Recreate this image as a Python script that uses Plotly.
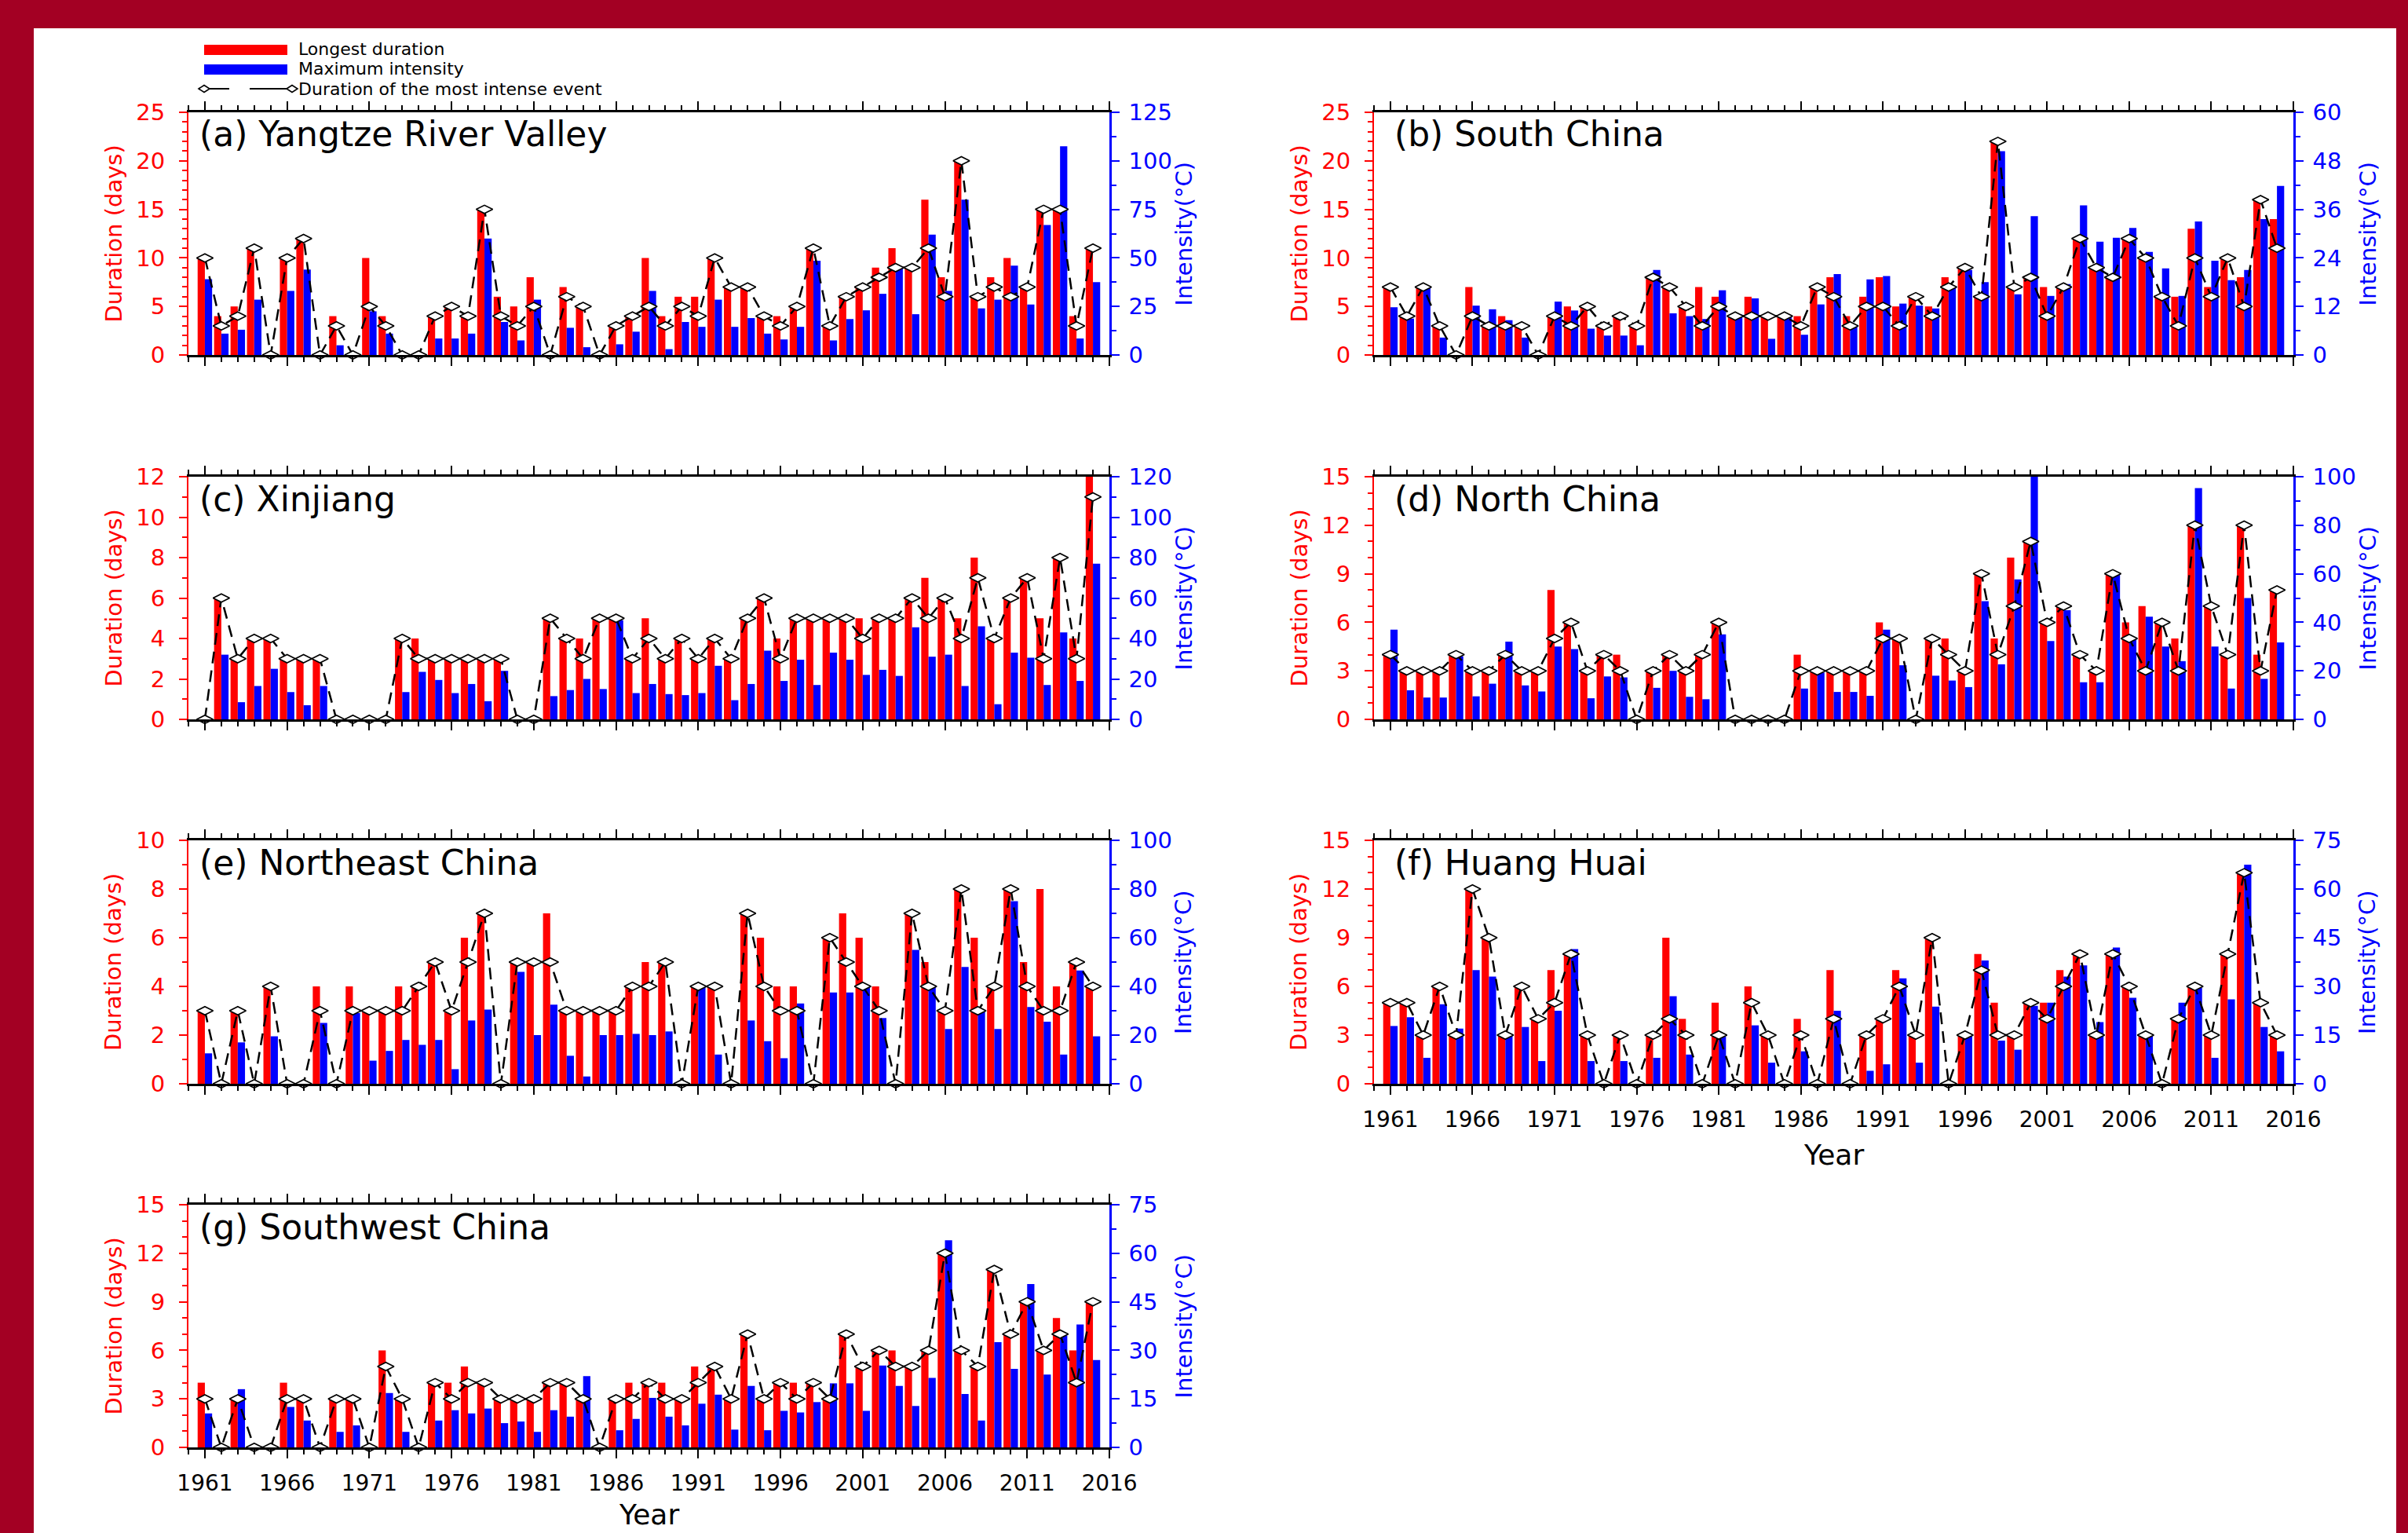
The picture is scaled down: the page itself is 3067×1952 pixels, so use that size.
import plotly.graph_objects as go

W, H = 3067, 1952
FONT = "DejaVu Sans"

years = list(range(1961, 2016))

# ---------------- data ----------------
# (a) Yangtze River Valley
a_dur = [10,4,5,11,0,10,12,0,4,0, 10,4,0,0,4,5,4,15,6,5, 8,0,7,5,0,3,4,10,4,6,
         6,10,7,7,4,4,5,11,3,6, 7,9,11,9,16,8,20,6,8,10, 7,15,15,4,11]
a_int = [39,11,13,28.5,0,33,44,0,5,0, 22.5,11,0,0,8.5,8.5,11,60,17,7.5,
         28.5,0,14,4,0,5.5,12,33,3,17, 14.5,28.5,14.5,19,11,8,14.5,48.5,7.5,18.5,
         23,31.5,45,21,62,33,80,24,28.5,46, 26,67,107.5,8.5,37.5]
a_most = [10,3,4,11,0,10,12,0,3,0, 5,3,0,0,4,5,4,15,4,3, 5,0,6,5,0,3,4,5,3,5,
          4,10,7,7,4,3,5,11,3,6, 7,8,9,9,11,6,20,6,7,6, 7,15,15,3,11]

# (b) South China
b_dur = [7,4,7,3,0,7,3,4,3,0, 4,5,5,3,4,3,8,7,5,7, 6,4,6,4,4,4,7,8,4,6,
         8,5,6,5,8,9,6,22,7,8, 7,7,12,9,8,12,10,6,6,13, 7,10,8,16,14]
b_int = [11.8,9,16.8,4.3,0,12.2,11.3,8.6,4.3,0, 13.2,11,6.5,4.8,4.8,2.4,21,10.3,9.6,8.9,
         16,10,14,4,9.6,5,12.5,20,7,18.7, 19.5,12.7,12.2,11.5,16.8,21,18,50.4,15,34.3,
         14.6,17.5,37,28,29,31.4,25.5,21.4,14.6,33, 23.3,18.5,21,33.6,41.8]
b_most = [7,4,7,3,0,4,3,3,3,0, 4,3,5,3,4,3,8,7,5,3, 5,4,4,4,4,3,7,6,3,5,
          5,3,6,4,7,9,6,22,7,8, 4,7,12,9,8,12,10,6,3,10, 6,10,5,16,11]

# (c) Xinjiang
c_dur = [0,6,3,4,4,3,3,3,0,0, 0,0,4,4,3,3,3,3,3,0, 0,5,4,4,5,5,3,5,3,4,
         3,4,3,5,6,4,5,5,5,5, 5,5,5,6,7,6,5,8,4,6, 7,5,8,4,12]
c_int = [0,32,8.5,16.5,25,13.5,7,16.5,0,0, 0,0,13.5,23.5,19.5,13,17.5,9,24,0,
         0,11.5,14.5,20,15,49,13,17.5,12.5,12, 13,26.5,9.5,17.5,34,19,29.5,17,33,29.5,
         22,24.5,21.5,45.5,31,32,16.5,46,7.5,33, 30.5,17,43,19,77]
c_most = [0,6,3,4,4,3,3,3,0,0, 0,0,4,3,3,3,3,3,3,0, 0,5,4,3,5,5,3,4,3,4,
          3,4,3,5,6,3,5,5,5,5, 4,5,5,6,5,6,4,7,4,6, 7,3,8,3,11]

# (d) North China
d_dur = [4,3,3,3,4,3,3,4,3,3, 8,6,3,4,4,0,3,4,3,4, 6,0,0,0,0,4,3,3,3,3,
         6,5,0,5,5,3,9,5,10,11, 6,7,4,3,9,6,7,6,5,12, 7,4,12,4,8]
d_int = [37,12,9,9,26,9.5,14.7,32,14,11.5, 30,29,8.7,17.7,17.3,0,13,20,9.3,8.3,
         35,0,0,0,0,12.7,19.3,11.3,11.3,9.7, 37,22.3,0,18,16,13.3,48.7,22.7,57.7,101,
         32.3,45,15.3,15.3,60,33,42.3,30,24,95.3, 30,12.7,50,16.7,31.7]
d_most = [4,3,3,3,4,3,3,4,3,3, 5,6,3,4,3,0,3,4,3,4, 6,0,0,0,0,3,3,3,3,3,
          5,5,0,5,4,3,9,4,7,11, 6,7,4,3,9,5,3,6,3,12, 7,4,12,3,8]

# (e) Northeast China
e_dur = [3,0,3,0,4,0,0,4,0,4, 3,3,4,4,5,3,6,7,0,5, 5,7,3,3,3,3,4,5,5,0,
         4,4,0,7,6,4,4,0,6,7, 6,4,0,7,5,3,8,6,4,8, 5,8,4,5,4]
e_int = [12.5,0,17,0,19.5,0,0,25,0,29, 9.5,13.5,18,16,18,6,26,30.5,0,46,
         20,32.5,11.5,3,20,20,20.5,20,21.5,0, 40,12,0,26,17.5,10.5,33,0,37.5,37.5,
         40,27,0,55,40,22.5,48,30,22.5,75, 31.5,25.5,12,46.5,19.5]
e_most = [3,0,3,0,4,0,0,3,0,3, 3,3,3,4,5,3,5,7,0,5, 5,5,3,3,3,3,4,4,5,0,
          4,4,0,7,4,3,3,0,6,5, 4,3,0,7,4,3,8,3,4,8, 4,3,3,5,4]

# (f) Huang Huai
f_dur = [5,5,3,6,3,12,9,3,6,4, 7,8,3,0,3,0,3,9,4,0, 5,0,6,3,0,4,0,7,0,3,
         4,7,3,9,0,3,8,5,3,5, 5,7,8,3,8,6,3,0,4,6, 3,8,13,5,3]
f_int = [17.8,20.5,8,24.5,17,35,33,15,17.5,7, 22.5,41.5,7,0,7,0,8,27,9,0,
         14.5,0,18,6.5,0,10,0,22.5,0,4, 6,32.5,6.5,23.8,0,15,38,13.3,10.5,24,
         25,33,36.5,19,42,26.5,15,0,25,29.5, 8,26,67.5,17.5,10]
f_most = [5,5,3,6,3,12,9,3,6,4, 5,8,3,0,3,0,3,4,3,0, 3,0,5,3,0,3,0,4,0,3,
          4,6,3,9,0,3,7,3,3,5, 4,6,8,3,8,6,3,0,4,6, 3,8,13,5,3]

# (g) Southwest China
g_dur = [4,0,3,0,0,4,3,0,3,3, 0,6,3,0,4,4,5,4,3,3, 3,4,4,3,0,3,4,4,4,3,
         5,5,3,7,3,4,4,4,3,7, 5,6,6,5,6,12,6,5,11,7, 9,6,8,6,9]
g_int = [10.5,0,18,0,0,12.5,8.3,0,4.8,6.8, 0,16.8,4.8,0,8.3,11.5,10.5,12,7.5,8,
         4.8,11.5,9.5,22,0,5.3,8.8,15.3,9.5,6.8, 13.5,16.3,5.5,19,5.3,11.3,10.8,14,19.8,19.8,
         11.3,25.3,19,12.8,21.5,64,16.5,8.3,32.5,24.3, 50.5,22.5,34.5,38,27]
g_most = [3,0,3,0,0,3,3,0,3,3, 0,5,3,0,4,3,4,4,3,3, 3,4,4,3,0,3,3,4,3,3,
          4,5,3,7,3,4,3,4,3,7, 5,6,5,5,6,12,6,5,11,7, 9,6,7,4,9]

titles = ["(a) Yangtze River Valley", "(b) South China", "(c) Xinjiang",
          "(d) North China", "(e) Northeast China", "(f) Huang Huai",
          "(g) Southwest China"]
durations = [a_dur, b_dur, c_dur, d_dur, e_dur, f_dur, g_dur]
intensities = [a_int, b_int, c_int, d_int, e_int, f_int, g_int]
most_intense = [a_most, b_most, c_most, d_most, e_most, f_most, g_most]

# axis ranges / tick steps: (left max, left step, right max, right step)
axis_specs = [(25, 5, 125, 25), (25, 5, 60, 12), (12, 2, 120, 20), (15, 3, 100, 20),
              (10, 2, 100, 20), (15, 3, 75, 15), (15, 3, 75, 15)]
x_tick_labels = [str(y) for y in range(1961, 2017, 5)]

legend_labels = ["Longest duration", "Maximum intensity", "Duration of the most intense event"]

# ---------------- layout geometry (pixels) ----------------
cols = [(240, 1413), (1750, 2921)]
rows = [(143, 452), (607, 916), (1070, 1380), (1534, 1843)]
pos = [(0, 0), (0, 1), (1, 0), (1, 1), (2, 0), (2, 1), (3, 0)]
show_xlabels = [False, False, False, False, False, True, True]
year_title_y = {5: 1470, 6: 1928}

RED = "#FF0000"
BLUE = "#0000FF"
BORDER = "#A30023"


def px(x):
    return x / W


def py(y):
    return 1 - y / H


fig = go.Figure()
layout = dict(
    width=W, height=H, autosize=False,
    margin=dict(l=0, r=0, t=0, b=0, pad=0, autoexpand=False),
    paper_bgcolor=BORDER,
    plot_bgcolor="rgba(0,0,0,0)",
    barmode="overlay",
    showlegend=False,
    font=dict(family=FONT, color="black"),
)
annotations = []
shapes = [dict(type="rect", xref="paper", yref="paper", x0=px(43), x1=px(3052),
               y0=-0.01, y1=py(36), fillcolor="white", line=dict(width=0), layer="below")]

for i in range(7):
    k = i + 1
    r, c = pos[i]
    x0, x1 = cols[c]
    y0, y1 = rows[r]
    lmax, lstep, rmax, rstep = axis_specs[i]
    iL, iR, iH = 3 * k - 2, 3 * k - 1, 3 * k
    xname = "xaxis" if k == 1 else f"xaxis{k}"
    xref = "x" if k == 1 else f"x{k}"
    yname = lambda n: "yaxis" if n == 1 else f"yaxis{n}"
    yref = lambda n: "y" if n == 1 else f"y{n}"

    layout[xname] = dict(
        domain=[px(x0), px(x1)], anchor=yref(iL), range=[1960, 2016], automargin=False,
        tickmode="array", tickvals=list(range(1961, 2017, 5)), ticktext=x_tick_labels,
        ticks="outside", ticklen=11, tickwidth=2, tickcolor="black",
        showline=True, linecolor="black", linewidth=3, mirror="ticks",
        showgrid=False, zeroline=False, showticklabels=show_xlabels[i],
        tickfont=dict(size=28, color="black", family=FONT), ticklabelstandoff=7,
        minor=dict(ticks="outside", tickmode="linear", tick0=1961, dtick=1, ticklen=6,
                   tickwidth=1.5, tickcolor="black", showgrid=False),
    )
    layout[yname(iL)] = dict(
        domain=[py(y1), py(y0)], anchor=xref, range=[0, lmax], automargin=False,
        tickmode="linear", tick0=0, dtick=lstep,
        ticks="outside", ticklen=10, tickwidth=2, tickcolor=RED,
        showline=True, linecolor=RED, linewidth=2,
        showgrid=False, zeroline=False,
        tickfont=dict(size=29, color=RED, family=FONT), ticklabelstandoff=12,
        minor=dict(ticks="outside", tickmode="linear", tick0=0, dtick=1, ticklen=6,
                   tickwidth=1.5, tickcolor=RED, showgrid=False),
    )
    layout[yname(iR)] = dict(
        overlaying=yref(iL), side="right", anchor=xref, range=[0, rmax], automargin=False,
        tickmode="linear", tick0=0, dtick=rstep,
        ticks="outside", ticklen=10, tickwidth=2, tickcolor=BLUE,
        showline=True, linecolor=BLUE, linewidth=2.5,
        showgrid=False, zeroline=False,
        tickfont=dict(size=29, color=BLUE, family=FONT), ticklabelstandoff=6,
        minor=dict(ticks="outside", tickmode="linear", tick0=0, dtick=rstep / 2, ticklen=6,
                   tickwidth=1.5, tickcolor=BLUE, showgrid=False),
    )
    layout[yname(iH)] = dict(
        overlaying=yref(iL), anchor=xref, range=[0, lmax], visible=False, automargin=False,
        showgrid=False, zeroline=False,
    )

    fig.add_trace(go.Bar(x=years, y=durations[i], xaxis=xref, yaxis=yref(iL),
                         width=0.44, offset=-0.44, marker=dict(color=RED, line=dict(width=0)),
                         name=legend_labels[0]))
    fig.add_trace(go.Bar(x=years, y=intensities[i], xaxis=xref, yaxis=yref(iR),
                         width=0.44, offset=0.0, marker=dict(color=BLUE, line=dict(width=0)),
                         name=legend_labels[1]))
    fig.add_trace(go.Scatter(x=years, y=most_intense[i], xaxis=xref, yaxis=yref(iH),
                             mode="lines+markers", cliponaxis=False,
                             line=dict(color="black", width=2.5, dash="15px,9px"),
                             marker=dict(symbol="diamond-wide", size=15, color="white",
                                         line=dict(color="black", width=1.7)),
                             name=legend_labels[2]))

    # panel title
    annotations.append(dict(text=titles[i], xref="paper", yref="paper",
                            x=px(x0 + (12 if c == 0 else 24)), y=py(y0 + 28),
                            xanchor="left", yanchor="middle", showarrow=False,
                            font=dict(size=44, color="black", family=FONT)))
    # axis titles
    annotations.append(dict(text="Duration (days)", xref="paper", yref="paper",
                            x=px(x0 - 96), y=py((y0 + y1) / 2), textangle=-90,
                            xanchor="center", yanchor="middle", showarrow=False,
                            font=dict(size=29, color=RED, family=FONT)))
    annotations.append(dict(text="Intensity(°C)", xref="paper", yref="paper",
                            x=px(x1 + 94), y=py((y0 + y1) / 2), textangle=-90,
                            xanchor="center", yanchor="middle", showarrow=False,
                            font=dict(size=29, color=BLUE, family=FONT)))
    if show_xlabels[i]:
        annotations.append(dict(text="Year", xref="paper", yref="paper",
                                x=px((x0 + x1) / 2), y=py(year_title_y[i]),
                                xanchor="center", yanchor="middle", showarrow=False,
                                font=dict(size=36, color="black", family=FONT)))

# ---------------- legend (top-left) ----------------
shapes.append(dict(type="rect", xref="paper", yref="paper", x0=px(260), x1=px(366),
                   y0=py(70), y1=py(57), fillcolor=RED, line=dict(width=0)))
shapes.append(dict(type="rect", xref="paper", yref="paper", x0=px(260), x1=px(366),
                   y0=py(95), y1=py(82), fillcolor=BLUE, line=dict(width=0)))
ly = 113
shapes.append(dict(type="line", xref="paper", yref="paper", x0=px(266), x1=px(292),
                   y0=py(ly), y1=py(ly), line=dict(color="black", width=2)))
shapes.append(dict(type="line", xref="paper", yref="paper", x0=px(318), x1=px(366),
                   y0=py(ly), y1=py(ly), line=dict(color="black", width=2)))
for cx in (260, 372):
    path = (f"M {px(cx-7)} {py(ly)} L {px(cx)} {py(ly-4.5)} L {px(cx+7)} {py(ly)} "
            f"L {px(cx)} {py(ly+4.5)} Z")
    shapes.append(dict(type="path", xref="paper", yref="paper", path=path,
                       fillcolor="white", line=dict(color="black", width=1.6)))
for txt, yy in zip(legend_labels, (63, 88, 113)):
    annotations.append(dict(text=txt, xref="paper", yref="paper", x=px(378), y=py(yy),
                            xanchor="left", yanchor="middle", showarrow=False,
                            font=dict(size=22, color="black", family=FONT)))

layout["annotations"] = annotations
layout["shapes"] = shapes
fig.update_layout(**layout)

no_margin_js = ("document.body.style.margin='0px';"
                "document.body.style.padding='0px';"
                "document.body.style.overflow='hidden';"
                "document.documentElement.style.overflow='hidden';")
fig.write_html("out.html", post_script=no_margin_js,
               config={"displayModeBar": False})
